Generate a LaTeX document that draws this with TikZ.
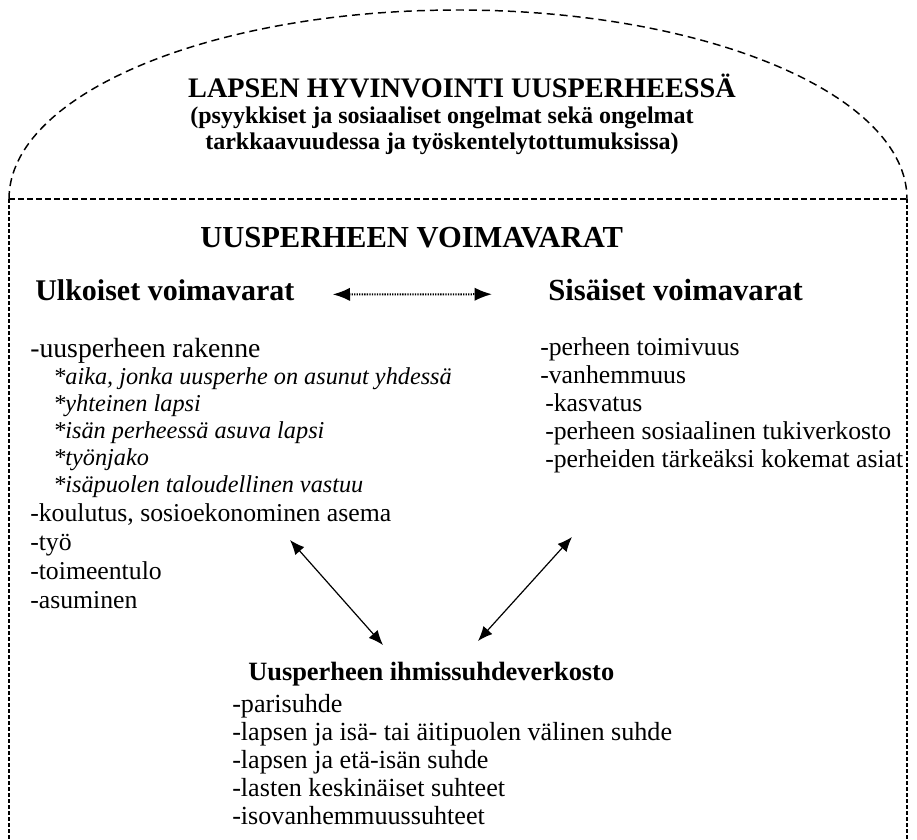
\documentclass[tikz,border=0pt]{standalone}
\usepackage{fontspec}
\setmainfont{Liberation Serif}
\usetikzlibrary{positioning,arrows.meta,calc}
\setlength{\lineskiplimit}{-20pt}

\begin{document}
\begin{tikzpicture}[x=0.75pt, y=-0.75pt,
  rim/.style={line width=1.1pt, dash pattern=on 6pt off 3.75pt},
  wall/.style={line width=1.1pt, dash pattern=on 4.5pt off 2.25pt},
  side/.style={line width=1.1pt, dash pattern=on 3pt off 1.5pt},
  head/.style={inner sep=0pt, font=\fontsize{22.5}{26}\selectfont\bfseries},
  list/.style={inner sep=0pt, align=left, anchor=north west,
               font=\fontsize{19.3}{21}\selectfont},
  both/.style={{Latex[length=11pt,width=9pt]}-{Latex[length=11pt,width=9pt]}, line width=0.9pt},
  dots/.style={{Latex[length=13pt,width=10pt]}-{Latex[length=13pt,width=10pt]}, line width=1.5pt,
               dash pattern=on 1pt off 0.9pt}]

  \useasboundingbox (0,0) rectangle (917,839);

  % outline: dome on top of an open box
  \coordinate (tl) at (9,199);
  \coordinate (tr) at (907,199);
  \coordinate (bl) at (9,839);
  \coordinate (br) at (907,839);
  \draw[rim] (tl) arc[start angle=180, end angle=0, x radius=336.75pt, y radius=141.75pt];
  \draw[wall] (tl) -- (tr);
  \draw[side] (tl) -- (bl);
  \draw[side] (tr) -- (br);

  % dome
  \node[head, anchor=base, font=\fontsize{21.2}{24}\selectfont\bfseries] (hyv) at (462,97) {LAPSEN HYVINVOINTI UUSPERHEESSÄ};
  \node[head, anchor=base, font=\fontsize{18}{20}\selectfont\bfseries] (ong1) at (442,123) {(psyykkiset ja sosiaaliset ongelmat sekä ongelmat};
  \node[head, anchor=base, font=\fontsize{18}{20}\selectfont\bfseries] (ong2) at (442,149) {tarkkaavuudessa ja työskentelytottumuksissa)};

  % resources
  \node[head, anchor=base west, font=\fontsize{22.9}{26}\selectfont\bfseries] (voim) at (200,247) {UUSPERHEEN VOIMAVARAT};
  \node[head, anchor=base west] (ulk) at (35,300) {Ulkoiset voimavarat};
  \node[head, anchor=base west, font=\fontsize{23}{26}\selectfont\bfseries] (sis) at (548,300) {Sisäiset voimavarat};
  \draw[dots, shorten <=28.5pt, shorten >=42pt] ([yshift=-3.5pt]ulk.east) -- ([yshift=-3.5pt]sis.west);

  \node[anchor=base west, inner sep=0pt, font=\fontsize{20.8}{22}\selectfont] (rak) at (30,357) {-uusperheen rakenne};
  \node[list, font=\fontsize{18.2}{20.25}\selectfont\itshape] (rakx) at (53,367.4)
    {*aika, jonka uusperhe on asunut yhdessä\\*yhteinen lapsi\\*isän perheessä asuva lapsi\\*työnjako\\*isäpuolen taloudellinen vastuu};
  \node[list, font=\fontsize{19.3}{21.75}\selectfont] (ulkx) at (30,503.4)
    {-koulutus, sosioekonominen asema\\-työ\\-toimeentulo\\-asuminen};
  \node[list] (sisx) at (540,337.4)
    {-perheen toimivuus\\-vanhemmuus\\\hspace{3.75pt}-kasvatus\\\hspace{3.75pt}-perheen sosiaalinen tukiverkosto\\\hspace{3.75pt}-perheiden tärkeäksi kokemat asiat};

  % relations
  \node[head, anchor=base west, font=\fontsize{19.8}{22}\selectfont\bfseries] (verk) at (248,680) {Uusperheen ihmissuhdeverkosto};
  \node[list, font=\fontsize{19.6}{21}\selectfont] (verkx) at (232,694.2)
    {-parisuhde\\-lapsen ja isä- tai äitipuolen välinen suhde\\-lapsen ja etä-isän suhde\\-lasten keskinäiset suhteet\\-isovanhemmuussuhteet};

  \coordinate (u1) at (290,540);
  \coordinate (u2) at (383,645);
  \coordinate (s1) at (572,537);
  \coordinate (s2) at (478,641);
  \draw[both] (u1) -- (u2);
  \draw[both] (s1) -- (s2);
\end{tikzpicture}
\end{document}
